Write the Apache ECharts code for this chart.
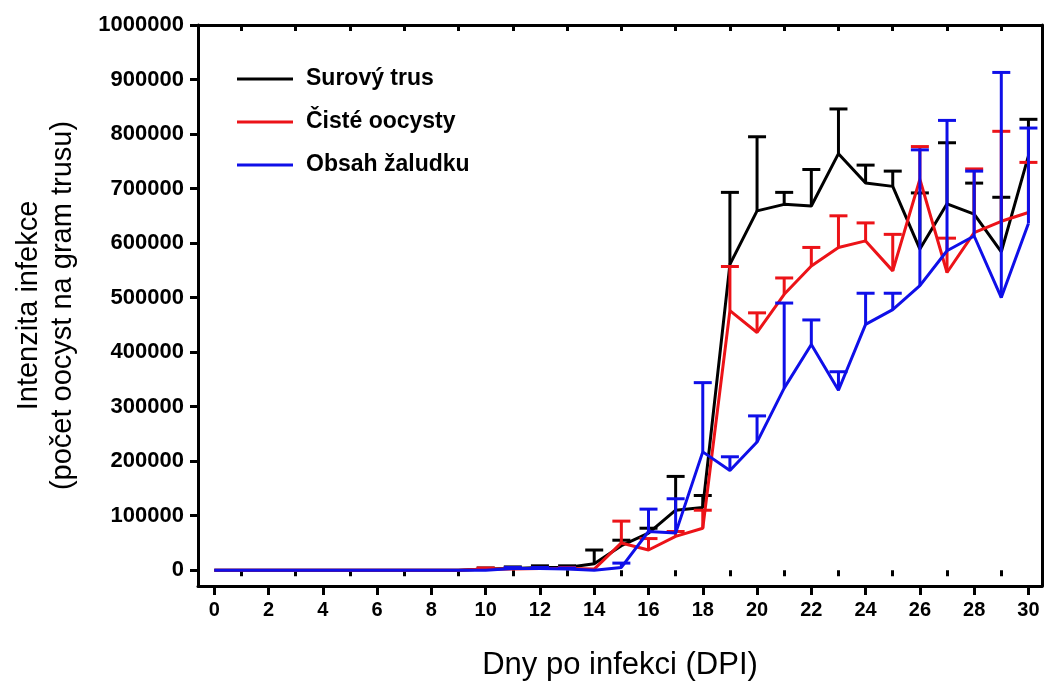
<!DOCTYPE html>
<html>
<head>
<meta charset="utf-8">
<title>Intenzita infekce</title>
<script src="https://cdn.jsdelivr.net/npm/echarts@6/dist/echarts.min.js"></script>
<style>
html, body { margin: 0; padding: 0; background: #fff; }
#chart { width: 1045px; height: 686px; }
</style>
</head>
<body>
<div id="chart"></div>
<script>
//dny po infekci
var dny = [0,1,2,3,4,5,6,7,8,9,10,11,12,13,14,15,16,17,18,19,20,21,22,23,24,25,26,27,28,29,30];
var osaXpopisky = [0,2,4,6,8,10,12,14,16,18,20,22,24,26,28,30];
var osaYpopisky = [0,100000,200000,300000,400000,500000,600000,700000,800000,900000,1000000];

//Surový trus - průměr a horní mez
var surovyTrus = [0,0,0,0,0,0,0,0,0,0,2000,3000,5000,5000,12000,45000,68000,110000,115000,561000,659000,671000,668000,764000,710000,704000,589000,672000,653000,584000,760000];
var surovyTrusMax = [0,0,0,0,0,0,0,0,0,0,4000,6000,8000,8000,37000,55000,77000,172000,137000,693000,795000,693000,735000,846000,743000,732000,692000,784000,710000,684000,827000];

//Čisté oocysty
var cisteOocysty = [0,0,0,0,0,0,0,0,0,0,2000,2000,3000,3000,2000,50000,37000,62000,77000,476000,436000,506000,558000,592000,604000,549000,717000,546000,619000,640000,656000];
var cisteOocystyMax = [0,0,0,0,0,0,0,0,0,0,4000,4000,5000,5000,2000,90000,58000,71000,110000,557000,472000,536000,592000,650000,637000,616000,777000,609000,736000,805000,748000];

//Obsah žaludku
var obsahZaludku = [0,0,0,0,0,0,0,0,0,0,0,3000,3000,2000,0,5000,71000,68000,217000,183000,235000,334000,414000,330000,451000,478000,522000,586000,613000,500000,636000];
var obsahZaludkuMax = [0,0,0,0,0,0,0,0,0,0,0,5000,5000,4000,0,13000,112000,131000,344000,208000,283000,490000,459000,364000,508000,508000,771000,825000,732000,913000,811000];

var barvy = ['#000000', '#ec1318', '#0f0fe8'];
var pismo = 'Liberation Sans, Arial, sans-serif';

function spoj(prumer) {
	var out = [];
	for (var i = 0; i < dny.length; i++) {
		out.push([dny[i], prumer[i]]);
	}
	return out;
}

function chyby(prumer, horni) {
	var out = [];
	for (var i = 0; i < dny.length; i++) {
		if (horni[i] > prumer[i]) {
			out.push([dny[i], prumer[i], horni[i]]);
		}
	}
	return out;
}

//chybové úsečky jen nahoru
function errorSeries(data, barva, z) {
	return {
		type: 'custom',
		data: data,
		z: z,
		silent: true,
		encode: { x: 0, y: [1, 2] },
		renderItem: function(params, api) {
			var dole = api.coord([api.value(0), api.value(1)]);
			var nahore = api.coord([api.value(0), api.value(2)]);
			var w = 9;
			var st = { stroke: barva, lineWidth: 3, fill: null };
			return {
				type: 'group',
				children: [
					{ type: 'line', shape: { x1: dole[0], y1: dole[1], x2: nahore[0], y2: nahore[1] }, style: st },
					{ type: 'line', shape: { x1: nahore[0] - w, y1: nahore[1], x2: nahore[0] + w, y2: nahore[1] }, style: st }
				]
			};
		}
	};
}

function lineSeries(name, prumer, barva, z) {
	return {
		name: name,
		type: 'line',
		data: spoj(prumer),
		symbol: 'none',
		z: z,
		lineStyle: { color: barva, width: 3 },
		itemStyle: { color: barva }
	};
}

var lichyDny = [];
for (var i = 1; i < 30; i += 2) {
	lichyDny.push(i);
}

var osaStyl = { show: true, onZero: false, lineStyle: { color: '#000', width: 3 } };

var chart = echarts.init(document.getElementById('chart'));
chart.setOption({
	animation: false,
	backgroundColor: '#fff',
	grid: { left: 198, right: 3, top: 25, bottom: 98 },
	legend: {
		data: ['Surový trus', 'Čisté oocysty', 'Obsah žaludku'],
		orient: 'vertical',
		left: 237,
		top: 66,
		padding: 0,
		icon: 'rect',
		itemWidth: 56,
		itemHeight: 3,
		itemGap: 17,
		textStyle: {
			fontFamily: pismo,
			fontWeight: 'bold',
			fontSize: 23,
			color: '#000',
			lineHeight: 26,
			padding: [0, 0, 0, 8]
		}
	},
	xAxis: [
		{
			type: 'value',
			min: -0.6,
			max: 30.5,
			position: 'bottom',
			name: 'Dny po infekci (DPI)',
			nameLocation: 'middle',
			nameGap: 64,
			nameTextStyle: { fontFamily: pismo, fontSize: 31, color: '#000' },
			axisLine: osaStyl,
			splitLine: { show: false },
			axisTick: { show: true, customValues: osaXpopisky, length: 9, lineStyle: { color: '#000', width: 3 } },
			axisLabel: {
				customValues: osaXpopisky,
				margin: 14,
				fontFamily: pismo,
				fontWeight: 'bold',
				fontSize: 20,
				color: '#000'
			}
		},
		{
			type: 'value',
			min: -0.6,
			max: 30.5,
			position: 'bottom',
			axisLine: { show: false },
			splitLine: { show: false },
			axisTick: { show: true, customValues: lichyDny, length: 6, lineStyle: { color: '#000', width: 3 } },
			axisLabel: { show: false }
		},
		{
			type: 'value',
			min: -0.6,
			max: 30.5,
			position: 'top',
			axisLine: osaStyl,
			splitLine: { show: false },
			axisTick: { show: true, inside: true, customValues: lichyDny, length: 6, lineStyle: { color: '#000', width: 3 } },
			axisLabel: { show: false }
		}
	],
	yAxis: [
		{
			type: 'value',
			min: -29000,
			max: 1000000,
			position: 'left',
			name: 'Intenzita infekce\n(počet oocyst na gram trusu)',
			nameLocation: 'middle',
			nameGap: 118,
			nameTextStyle: { fontFamily: pismo, fontSize: 29, color: '#000', lineHeight: 34 },
			axisLine: osaStyl,
			splitLine: { show: false },
			axisTick: { show: true, customValues: osaYpopisky, length: 8, lineStyle: { color: '#000', width: 3 } },
			axisLabel: {
				customValues: osaYpopisky,
				margin: 14,
				fontFamily: pismo,
				fontWeight: 'bold',
				fontSize: 22,
				color: '#000',
				formatter: function(v) {
					return String(v);
				}
			}
		},
		{
			type: 'value',
			min: -29000,
			max: 1000000,
			position: 'right',
			axisLine: osaStyl,
			splitLine: { show: false },
			axisTick: { show: false },
			axisLabel: { show: false }
		}
	],
	series: [
		errorSeries(chyby(surovyTrus, surovyTrusMax), barvy[0], 2),
		lineSeries('Surový trus', surovyTrus, barvy[0], 3),
		errorSeries(chyby(cisteOocysty, cisteOocystyMax), barvy[1], 4),
		lineSeries('Čisté oocysty', cisteOocysty, barvy[1], 5),
		errorSeries(chyby(obsahZaludku, obsahZaludkuMax), barvy[2], 6),
		lineSeries('Obsah žaludku', obsahZaludku, barvy[2], 7)
	]
});
</script>
</body>
</html>
